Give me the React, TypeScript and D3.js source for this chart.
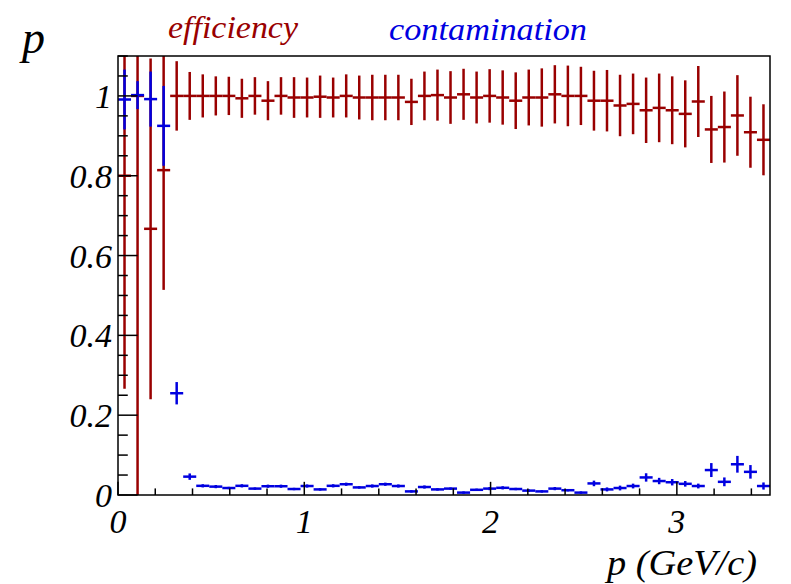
import React from 'react';
import * as d3 from 'd3';

// ---- data ----
const xTickValues = [0, 1, 2, 3];
const xTickLabels = ['0', '1', '2', '3'];
const yTickValues = [0, 0.2, 0.4, 0.6, 0.8, 1];
const yTickLabels = ['0', '0.2', '0.4', '0.6', '0.8', '1'];
const seriesNames = ['efficiency', 'contamination'];

const binLow = 0;
const binWidth = 0.07;

const efficiency = [
  0.80, 1.0, 0.667, 0.814, 1.0, 1.0, 1.0, 1.0, 1.0, 0.994,
  1.0, 0.988, 1.0, 0.996, 0.996, 0.998, 0.996, 1.0, 0.996, 0.996,
  0.996, 0.996, 0.985, 1.0, 1.002, 0.996, 1.004, 0.996, 1.0, 0.996,
  0.988, 0.996, 0.996, 1.004, 1.0, 1.0, 0.988, 0.988, 0.976, 0.980,
  0.964, 0.970, 0.964, 0.955, 0.986, 0.916, 0.922, 0.951, 0.909, 0.890,
];
const efficiencyErr = [
  0.534, 1.0, 0.427, 0.30, 0.087, 0.060, 0.054, 0.049, 0.048, 0.049,
  0.047, 0.049, 0.047, 0.051, 0.050, 0.053, 0.050, 0.054, 0.055, 0.057,
  0.057, 0.057, 0.058, 0.061, 0.064, 0.066, 0.064, 0.065, 0.067, 0.068,
  0.071, 0.070, 0.073, 0.073, 0.076, 0.073, 0.075, 0.077, 0.077, 0.076,
  0.082, 0.086, 0.085, 0.084, 0.089, 0.084, 0.089, 0.101, 0.089, 0.089,
];
const contamination = [
  0.991, 1.002, 0.992, 0.925, 0.255, 0.046, 0.023, 0.021, 0.0175, 0.023,
  0.016, 0.022, 0.022, 0.015, 0.0225, 0.014, 0.023, 0.027, 0.019, 0.0225,
  0.027, 0.0225, 0.009, 0.020, 0.014, 0.016, 0.006, 0.013, 0.016, 0.018,
  0.015, 0.011, 0.009, 0.016, 0.012, 0.006, 0.029, 0.014, 0.0175, 0.0225,
  0.044, 0.035, 0.032, 0.028, 0.0225, 0.0625, 0.033, 0.077, 0.058, 0.0225,
];
const contaminationErr = [
  0.075, 0.035, 0.069, 0.10, 0.028, 0.008, 0.004, 0.004, 0.003, 0.004,
  0.003, 0.004, 0.004, 0.003, 0.004, 0.003, 0.004, 0.004, 0.003, 0.004,
  0.004, 0.004, 0.003, 0.004, 0.003, 0.003, 0.003, 0.003, 0.004, 0.004,
  0.003, 0.003, 0.003, 0.004, 0.003, 0.003, 0.007, 0.005, 0.006, 0.006,
  0.0105, 0.008, 0.008, 0.007, 0.006, 0.0175, 0.011, 0.021, 0.017, 0.009,
];

// ---- layout ----
const W = 791;
const H = 584;
const plot = { left: 118, right: 770, top: 56, bottom: 495 };
const RED = '#990000';
const BLUE = '#0000e0';
const FONT = "'Liberation Serif', 'Times New Roman', serif";

const x = d3.scaleLinear().domain([0, 3.5]).range([plot.left, plot.right]);
const y = d3.scaleLinear().domain([0, 1.1]).range([plot.bottom, plot.top]);

function ErrorSeries({ values, errs, color }: { values: number[]; errs: number[]; color: string }) {
  return (
    <g clipPath="url(#plotClip)" stroke={color} strokeWidth={2.5} fill="none">
      {values.map((v, i) => {
        const lo = binLow + i * binWidth;
        const hi = lo + binWidth;
        const c = lo + binWidth / 2;
        const e = errs[i];
        return (
          <g key={i}>
            <line x1={x(lo)} x2={x(hi)} y1={y(v)} y2={y(v)} />
            <line x1={x(c)} x2={x(c)} y1={y(v - e)} y2={y(v + e)} />
          </g>
        );
      })}
    </g>
  );
}

export default function App() {
  const plotW = plot.right - plot.left;
  const plotH = plot.bottom - plot.top;
  const yMajorLen = 0.03 * plotW;
  const yMinorLen = yMajorLen / 2;
  const xMajorLen = 0.03 * plotH;
  const xMinorLen = xMajorLen / 2;

  const yMinor = d3.range(0, 1.1001, 0.05).filter((t) => Math.abs(t / 0.2 - Math.round(t / 0.2)) > 1e-6);
  const xMinor = d3.range(0, 3.5001, 0.2).filter((t) => Math.abs(t - Math.round(t)) > 1e-6);

  const textStyle = { fontFamily: FONT, fontStyle: 'italic' as const };

  return (
    <svg
      width={W}
      height={H}
      viewBox={`0 0 ${W} ${H}`}
      style={{ position: 'absolute', left: 0, top: 0, background: '#fff' }}
    >
      <defs>
        <clipPath id="plotClip">
          <rect x={plot.left} y={plot.top} width={plotW} height={plotH} />
        </clipPath>
      </defs>
      <rect x={0} y={0} width={W} height={H} fill="#fff" />

      {/* series */}
      <ErrorSeries values={efficiency} errs={efficiencyErr} color={RED} />
      <ErrorSeries values={contamination} errs={contaminationErr} color={BLUE} />

      {/* frame */}
      <rect x={plot.left} y={plot.top} width={plotW} height={plotH} fill="none" stroke="#000" strokeWidth={1.5} />

      {/* ticks */}
      <g stroke="#000" strokeWidth={1.5}>
        {yTickValues.map((t) => (
          <line key={'ym' + t} x1={plot.left} x2={plot.left + yMajorLen} y1={y(t)} y2={y(t)} />
        ))}
        {yMinor.map((t) => (
          <line key={'yn' + t} x1={plot.left} x2={plot.left + yMinorLen} y1={y(t)} y2={y(t)} />
        ))}
        {xTickValues.map((t) => (
          <line key={'xm' + t} x1={x(t)} x2={x(t)} y1={plot.bottom} y2={plot.bottom - xMajorLen} />
        ))}
        {xMinor.map((t) => (
          <line key={'xn' + t} x1={x(t)} x2={x(t)} y1={plot.bottom} y2={plot.bottom - xMinorLen} />
        ))}
      </g>

      {/* tick labels */}
      <g style={textStyle} fontSize={34} fill="#000">
        {yTickValues.map((t, i) => (
          <text key={'yl' + t} x={plot.left - 6} y={y(t) + 12} textAnchor="end">
            {yTickLabels[i]}
          </text>
        ))}
        {xTickValues.map((t, i) => (
          <text key={'xl' + t} x={x(t)} y={plot.bottom + 38} textAnchor="middle">
            {xTickLabels[i]}
          </text>
        ))}
      </g>

      {/* axis titles */}
      <text x={22} y={53} style={textStyle} fontSize={46} fill="#000">
        p
      </text>
      <text
        x={607}
        y={575}
        style={textStyle}
        fontSize={36}
        fill="#000"
        textLength={150}
        lengthAdjust="spacingAndGlyphs"
      >
        p (GeV/c)
      </text>

      {/* legend texts */}
      <text
        x={168}
        y={38}
        style={textStyle}
        fontSize={31}
        fill={RED}
        textLength={130}
        lengthAdjust="spacingAndGlyphs"
      >
        {seriesNames[0]}
      </text>
      <text
        x={389}
        y={40}
        style={textStyle}
        fontSize={31}
        fill={BLUE}
        textLength={198}
        lengthAdjust="spacingAndGlyphs"
      >
        {seriesNames[1]}
      </text>
    </svg>
  );
}
